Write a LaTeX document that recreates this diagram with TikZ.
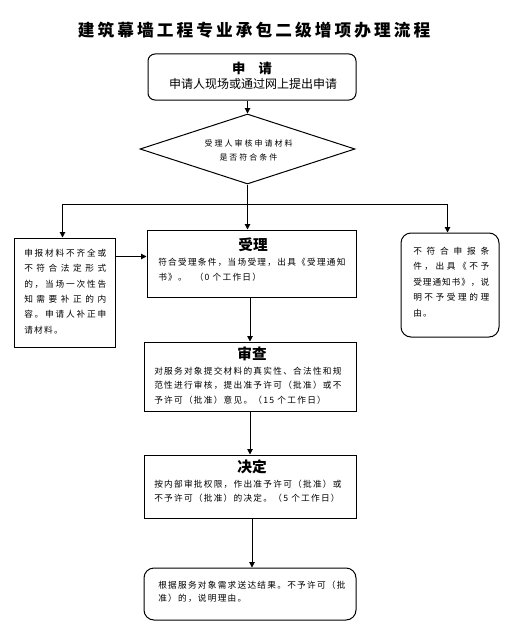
\documentclass[tikz,border=0pt]{standalone}
\usepackage{fontspec}
\setmainfont{Noto Sans CJK SC}
\newfontfamily\bodyf[LetterSpace=14.5]{Noto Sans CJK SC}
\newfontfamily\diaf[LetterSpace=25]{Noto Sans CJK SC}
\newfontfamily\titlef[LetterSpace=18.5]{Noto Sans CJK SC}
\usetikzlibrary{arrows.meta,shapes.geometric}
\newdimen\pxu \pxu=0.75pt
\makeatletter
\newcommand\jline[2]{\hbox to #1{\@tfor\my@jc:=#2\do{\my@jc\hfil}\unskip}}
\makeatother
\tikzset{
  box/.style={draw, line width=0.75pt, inner sep=0pt},
  rbox/.style={box, rounded corners=7\pxu},
  arr/.style={line width=0.75pt, -{Triangle[length=4pt,width=4pt]}},
  txt/.style={inner sep=0pt, align=left, anchor=north west},
  btitle/.style={inner sep=0pt, font=\bfseries\fontsize{11}{13}\selectfont},
}
\begin{document}
\begin{tikzpicture}[x=0.75pt,y=-0.75pt]
\useasboundingbox (0,0) rectangle (511,635);
% title
\node[inner sep=0pt, font=\titlef\bfseries\fontsize{12.5}{15}\selectfont] (title) at (254,30) {建筑幕墙工程专业承包二级增项办理流程};
% boxes
\node[rbox, minimum width=208\pxu, minimum height=46\pxu] (apply) at (252,77) {};
\node[box, diamond, minimum width=215\pxu, minimum height=70\pxu] (dia) at (247.5,149) {};
\node[box, minimum width=101\pxu, minimum height=109\pxu] (lbox) at (64.5,292.5) {};
\node[box, minimum width=209\pxu, minimum height=67\pxu] (acc) at (251.5,263.5) {};
\node[rbox, rounded corners=10\pxu, minimum width=98\pxu, minimum height=104\pxu] (rbox) at (450,285) {};
\node[box, minimum width=212\pxu, minimum height=69\pxu] (rev) at (250,376.5) {};
\node[box, minimum width=212\pxu, minimum height=63\pxu] (dec) at (250,486.5) {};
\node[rbox, rounded corners=10\pxu, minimum width=212\pxu, minimum height=52\pxu] (fin) at (250,594) {};
% texts
\node[inner sep=0pt, font=\bfseries\fontsize{10}{12}\selectfont] (applyt) at (252,68) {申　请};
\node[inner sep=0pt, font=\fontsize{9}{11}\selectfont] (applyb) at (253,84) {申请人现场或通过网上提出申请};
\node[inner sep=0pt, align=center, font=\diaf\fontsize{6}{10.5}\selectfont] (diat) at (248.5,150) {受理人审核申请材料\\是否符合条件};
\node[txt, font=\bodyf\fontsize{6.5}{11.55}\selectfont] (lboxt) at (24,248.7) {\jline{61.5pt}{申报材料不齐全或}\\\jline{61.5pt}{不符合法定形式}\\\jline{61.5pt}{的，当场一次性告}\\\jline{61.5pt}{知需要补正的内}\\\jline{61.5pt}{容。申请人补正申}\\请材料。};
\node[txt, font=\bodyf\fontsize{6.5}{11.6}\selectfont] (rboxt) at (413,246.7) {\jline{57pt}{不符合申报条}\\\jline{57pt}{件，出具《不予}\\\jline{57pt}{受理通知书》，说}\\\jline{57pt}{明不予受理的理}\\由。};
\node[btitle] (acct) at (253,245) {受理};
\node[txt, font=\bodyf\fontsize{6.5}{11.25}\selectfont] (accb) at (158,257.7) {符合受理条件，当场受理，出具《受理通知\\书》。\hspace{6pt}（0 个工作日）};
\node[btitle] (revt) at (252,354) {审查};
\node[txt, font=\bodyf\fontsize{6.5}{10.9}\selectfont] (revb) at (154,366.7) {对服务对象提交材料的真实性、合法性和规\\范性进行审核，提出准予许可（批准）或不\\予许可（批准）意见。（15 个工作日）};
\node[btitle] (dect) at (252,467) {决定};
\node[txt, font=\bodyf\fontsize{6.5}{10.5}\selectfont] (decb) at (154,479.7) {按内部审批权限，作出准予许可（批准）或\\不予许可（批准）的决定。（5 个工作日）};
\node[txt, font=\bodyf\fontsize{6.5}{10.1}\selectfont] (finb) at (158,580.7) {根据服务对象需求送达结果。不予许可（批\\准）的，说明理由。};
% connectors
\draw[arr] (apply.south -| dia.north) -- (dia.north);
\draw[arr] (dia.south) -- (dia.south |- acc.north);
\coordinate (br) at (247.5,204.5);
\draw[arr] (br) -| ([xshift=-2\pxu]lbox.north);
\draw[arr] (br) -| ([xshift=-2.5\pxu]rbox.north);
\draw[arr] ([yshift=-14.25pt]lbox.north east) -- ([yshift=-14.25pt]lbox.north east -| acc.west);
\draw[arr] (acc.south -| rev.north) -- (rev.north);
\draw[arr] (rev.south) -- (dec.north);
\draw[arr] ([xshift=2\pxu]dec.south) -- ([xshift=2\pxu]fin.north);
\end{tikzpicture}
\end{document}
